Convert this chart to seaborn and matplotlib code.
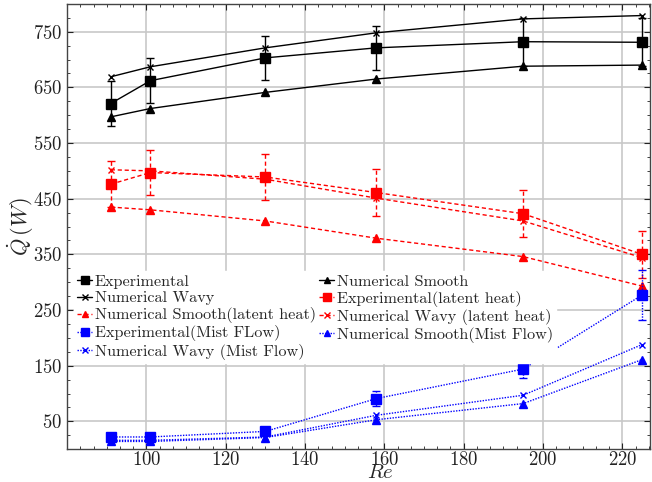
import matplotlib
matplotlib.use("Agg")
import matplotlib.pyplot as plt
from matplotlib.ticker import MultipleLocator, FixedLocator
import seaborn as sns
import pandas as pd

# ---- data ----
re = [91, 101, 130, 158, 195, 225]

exp = [621, 662, 703, 721, 732, 731]
exp_err = [40, 40, 40, 40, 43, 43]
num_smooth = [597, 612, 641, 665, 688, 690]
num_wavy = [669, 687, 721, 748, 773, 779]

exp_lat = [476, 497, 489, 461, 423, 350]
exp_lat_err = [41, 41, 41, 42, 42, 42]
num_smooth_lat = [435, 430, 410, 379, 346, 293]
num_wavy_lat = [502, 500, 485, 451, 410, 344]

exp_mist = [22, 22, 32, 91, 144, 277]
exp_mist_err = [5, 5, 5, 13, 16, 45]
num_smooth_mist = [14, 14, 21, 53, 82, 161]
num_wavy_mist = [16, 16, 22, 61, 97, 188]

x_ticks = [100, 120, 140, 160, 180, 200, 220]
y_ticks = [50, 150, 250, 350, 450, 550, 650, 750]

labels = ["Experimental", "Numerical Smooth", "Numerical Wavy",
          "Experimental(latent heat)", "Numerical Smooth(latent heat)",
          "Numerical Wavy (latent heat)", "Experimental(Mist FLow)",
          "Numerical Smooth(Mist Flow)", "Numerical Wavy (Mist Flow)"]

sns.set_style("ticks")
plt.rcParams["font.family"] = ["serif"]
plt.rcParams["font.serif"] = ["cmr10", "DejaVu Serif"]
plt.rcParams["mathtext.fontset"] = "cm"
plt.rcParams["axes.formatter.use_mathtext"] = True

fig = plt.figure(figsize=(6.52, 4.82), dpi=100)
ax = fig.add_axes([0.103, 0.068, 0.894, 0.924])

dash = (0, (3, 2))
dot = (0, (1, 1))
series = [
    (exp, exp_err, "black", "-", "s", 6.5),
    (num_smooth, None, "black", "-", "^", 5.5),
    (num_wavy, None, "black", "-", "x", 5),
    (exp_lat, exp_lat_err, "red", dash, "s", 6.5),
    (num_smooth_lat, None, "red", dash, "^", 5.5),
    (num_wavy_lat, None, "red", dash, "x", 5),
    (exp_mist, exp_mist_err, "blue", dot, "s", 6.5),
    (num_smooth_mist, None, "blue", dot, "^", 5.5),
    (num_wavy_mist, None, "blue", dot, "x", 5),
]

for (vals, err, col, ls, mk, ms), lab in zip(series, labels):
    df = pd.DataFrame({"Re": re, "Q": vals})
    sns.lineplot(data=df, x="Re", y="Q", ax=ax, color=col, linestyle=ls,
                 marker=mk, markersize=ms, markeredgecolor=col,
                 markeredgewidth=1.0, linewidth=1.0, label=lab, zorder=3)
    if err is not None:
        eb = ax.errorbar(re, vals, yerr=err, fmt="none", ecolor=col,
                         elinewidth=1.0, capsize=3, capthick=1.0, zorder=3)
        for lc in eb[2]:
            lc.set_linestyle(ls if ls != "-" else "solid")

h, l = ax.get_legend_handles_labels()
order = [0, 2, 4, 6, 8, 1, 3, 5, 7]
leg = ax.legend([h[i] for i in order], [l[i] for i in order], ncol=2,
                loc="upper left", bbox_to_anchor=(0.012, 0.40),
                frameon=True, fancybox=False, edgecolor="white",
                facecolor="white", framealpha=1.0, fontsize=11.7,
                handlelength=0.92, handletextpad=0.15, columnspacing=0.2,
                labelspacing=0.13, borderpad=0.2, borderaxespad=0.0,
                markerscale=0.8)
leg.set_zorder(5)

ax.set_xlim(80, 227)
ax.set_ylim(0, 800)
ax.xaxis.set_major_locator(FixedLocator(x_ticks))
ax.xaxis.set_minor_locator(MultipleLocator(20 / 6))
ax.yaxis.set_major_locator(FixedLocator(y_ticks))
ax.yaxis.set_minor_locator(MultipleLocator(25))
ax.grid(True, which="major", color="#c8c8c8", linewidth=1.2, zorder=0)
ax.set_axisbelow(True)
ax.tick_params(which="both", direction="in", top=True, right=True,
               labelsize=13.5, colors="#222222")
ax.tick_params(axis="x", pad=1)
ax.tick_params(which="major", length=4)
ax.tick_params(which="minor", length=2)
for s in ax.spines.values():
    s.set_color("#444444")
    s.set_linewidth(1.0)

ax.set_xlabel(r"$Re$", fontsize=15)
ax.xaxis.set_label_coords(0.538, -0.034)
ax.set_ylabel(r"$\dot{Q}\,(W)$", fontsize=16, labelpad=-2)

fig.savefig("out.png", dpi=100)
